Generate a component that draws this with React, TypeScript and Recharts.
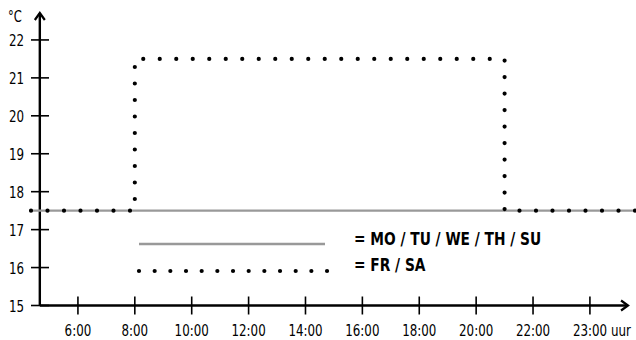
import { LineChart, Line, XAxis, YAxis, ReferenceLine, Legend } from "recharts";

const FONT = "'DejaVu Sans Condensed', 'DejaVu Sans', sans-serif";
const narrow = { fontStretch: "condensed" as const };
const SQUEEZE = 0.8;

// hours of the day / setpoint in degrees C
const weekdayHours = [4.35, 25.62];
const weekdayTemps = [17.5, 17.5];

const weekendHours = [4.35, 8, 8, 21, 21, 25.62];
const weekendTemps = [17.5, 17.5, 21.5, 21.5, 17.5, 17.5];

const xTicks = [6, 8, 10, 12, 14, 16, 18, 20, 22, 24];
const xTickLabels = ["6:00", "8:00", "10:00", "12:00", "14:00", "16:00", "18:00", "20:00", "22:00", "23:00 uur"];
const yTicks = [15, 16, 17, 18, 19, 20, 21, 22];

const weekdayLabel = "= MO / TU / WE / TH / SU";
const weekendLabel = "= FR / SA";

const weekday = weekdayHours.map((h, i) => ({ h, t: weekdayTemps[i] }));
const weekend = weekendHours.map((h, i) => ({ h, t: weekendTemps[i] }));

const axisStart = 4.66;

// narrow text: condensed font squeezed a bit more to get the look of the original
const NarrowText = ({ x, y, anchor = "start", size = 16.5, bold = false, sx = SQUEEZE, children }: any) => (
  <text
    transform={`translate(${x},${y}) scale(${sx},1)`}
    textAnchor={anchor}
    fontFamily={FONT}
    style={narrow}
    fontWeight={bold ? "bold" : "normal"}
    fontSize={size}
    fill="#000"
  >
    {children}
  </text>
);

const YTick = (props: any) => {
  const { x, y, payload } = props;
  return (
    <g>
      <line x1={x} x2={x + 18} y1={y} y2={y} stroke="#000" strokeWidth={1.6} />
      <NarrowText x={x - 7} y={y + 6} anchor="end">
        {payload.value}
      </NarrowText>
    </g>
  );
};

const XTick = (props: any) => {
  const { x, y, index } = props;
  const label = xTickLabels[index];
  const isLast = index === xTickLabels.length - 1;
  return (
    <g>
      <line x1={x} x2={x} y1={y - 9} y2={y + 9} stroke="#000" strokeWidth={1.6} />
      <NarrowText x={isLast ? x - 17 : x} y={y + 30} anchor={isLast ? "start" : "middle"}>
        {label}
      </NarrowText>
    </g>
  );
};

const ArrowLine = (props: any) => {
  const { x1, y1, x2, y2, vertical } = props;
  const head = vertical
    ? `M${x2 - 5},${y2 + 7} L${x2},${y2} L${x2 + 5},${y2 + 7}`
    : `M${x2 - 7},${y2 - 5} L${x2},${y2} L${x2 - 7},${y2 + 5}`;
  return (
    <g>
      <line x1={x1} y1={y1} x2={x2} y2={y2} stroke="#000" strokeWidth={2.4} />
      <path d={head} fill="none" stroke="#000" strokeWidth={2.2} />
    </g>
  );
};

const LegendBox = () => (
  <svg width={420} height={50} style={{ overflow: "visible" }}>
    <line x1={2} x2={188} y1={11} y2={11} stroke="#999" strokeWidth={2.3} />
    <line
      x1={2}
      x2={193}
      y1={38}
      y2={38}
      stroke="#000"
      strokeWidth={4.2}
      strokeLinecap="round"
      strokeDasharray="0 15.67"
    />
    <NarrowText x={217} y={12} size={17} bold sx={0.9}>
      {weekdayLabel}
    </NarrowText>
    <NarrowText x={217} y={38} size={17} bold sx={0.9}>
      {weekendLabel}
    </NarrowText>
  </svg>
);

export default function App() {
  return (
    <div style={{ position: "absolute", left: 0, top: 0, background: "#fff" }}>
      <LineChart width={636} height={340} margin={{ top: 13, right: 0, left: 0, bottom: 0 }}>
        <XAxis
          type="number"
          dataKey="h"
          domain={[4.35, 25.62]}
          ticks={xTicks}
          interval={0}
          axisLine={false}
          tickLine={false}
          tickSize={0}
          tickMargin={0}
          height={34.5}
          tick={<XTick />}
        />
        <YAxis
          type="number"
          dataKey="t"
          domain={[15, 22.71]}
          ticks={yTicks}
          interval={0}
          axisLine={false}
          tickLine={false}
          tickSize={0}
          tickMargin={0}
          width={31}
          tick={<YTick />}
        />
        <ReferenceLine
          segment={[{ x: axisStart, y: 15 }, { x: axisStart, y: 22.71 }]}
          shape={(p: any) => <ArrowLine {...p} vertical />}
          ifOverflow="visible"
        />
        <ReferenceLine
          segment={[{ x: axisStart, y: 15 }, { x: 25.34, y: 15 }]}
          shape={(p: any) => <ArrowLine {...p} />}
          ifOverflow="visible"
        />
        <Line
          data={weekday}
          dataKey="t"
          stroke="#999"
          strokeWidth={2.3}
          dot={false}
          isAnimationActive={false}
          type="linear"
        />
        <Line
          data={weekend}
          dataKey="t"
          stroke="#000"
          strokeWidth={4.2}
          strokeLinecap="round"
          strokeDasharray="0 16.5"
          dot={false}
          isAnimationActive={false}
          type="linear"
        />
        <Legend
          layout="horizontal"
          verticalAlign="middle"
          align="center"
          wrapperStyle={{ left: 137, top: 233, width: 420, height: 50 }}
          content={<LegendBox />}
        />
        <NarrowText x={8} y={22} size={16}>
          °C
        </NarrowText>
      </LineChart>
    </div>
  );
}
